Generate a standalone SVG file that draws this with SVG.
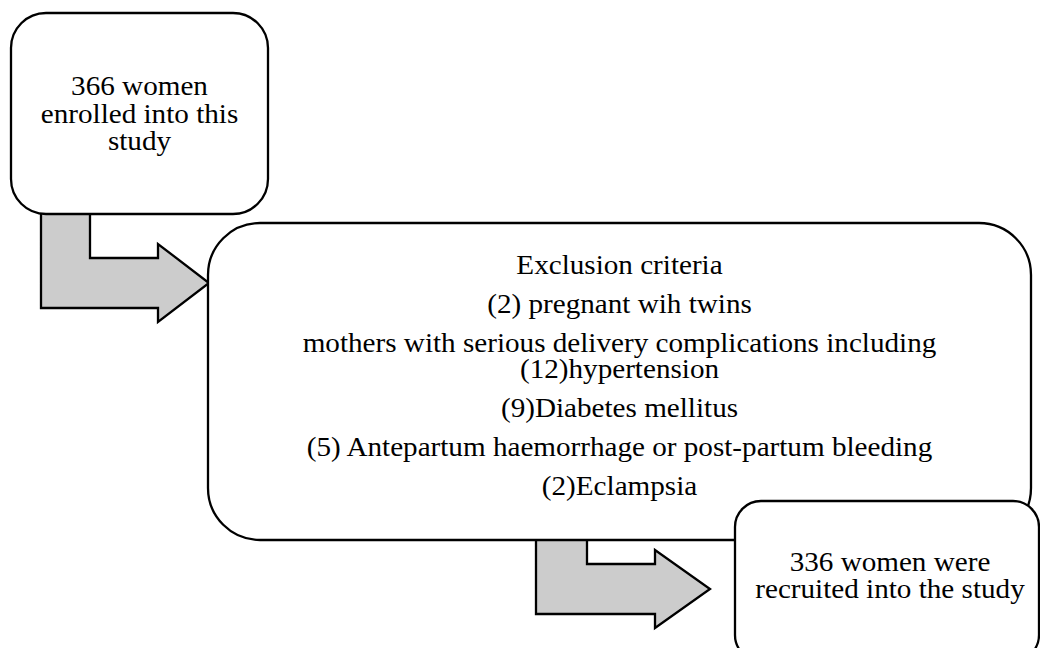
<svg xmlns="http://www.w3.org/2000/svg" width="1040" height="648" viewBox="0 0 1040 648">
  <style>
    .box { fill: #ffffff; stroke: #000000; stroke-width: 2.3; }
    .arrow { fill: #cccccc; stroke: #000000; stroke-width: 2.3; stroke-linejoin: miter; }
    .label { font-family: "Liberation Serif", "Times New Roman", serif; font-size: 26.5px; fill: #000000; text-anchor: middle; }
  </style>
  <rect x="0" y="0" width="1040" height="648" fill="#ffffff"/>

  <!-- bent block arrows between the stages -->
  <g id="connectors">
    <path class="arrow" d="M41,205 L90,205 L90,258 L158,258 L158,244 L209,283 L158,322 L158,308 L41,308 Z"/>
    <path class="arrow" d="M536,530 L587,530 L587,564 L655,564 L655,550 L710,589 L655,628 L655,614 L536,614 Z"/>
  </g>

  <!-- enrolled -->
  <g id="enrolled">
    <rect class="box" x="11" y="13" width="257" height="201" rx="35" ry="35"/>
    <g transform="translate(139.5,0) scale(1.1,1)">
      <text class="label" x="0" y="95">366 women</text>
      <text class="label" x="0" y="123">enrolled into this</text>
      <text class="label" x="0" y="150">study</text>
    </g>
  </g>

  <!-- exclusion criteria -->
  <g id="exclusion">
    <rect class="box" x="208" y="223" width="823" height="317" rx="52" ry="52"/>
    <g transform="translate(619.5,0) scale(1.1,1)">
      <text class="label" x="0" y="274">Exclusion criteria</text>
      <text class="label" x="0" y="313">(2) pregnant wih twins</text>
      <text class="label" x="0" y="352">mothers with serious delivery complications including</text>
      <text class="label" x="0" y="378">(12)hypertension</text>
      <text class="label" x="0" y="417">(9)Diabetes mellitus</text>
      <text class="label" x="0" y="456">(5) Antepartum haemorrhage or post-partum bleeding</text>
      <text class="label" x="0" y="495">(2)Eclampsia</text>
    </g>
  </g>

  <!-- recruited -->
  <g id="recruited">
    <rect class="box" x="735" y="501" width="304" height="160" rx="26" ry="26"/>
    <g transform="translate(890,0) scale(1.1,1)">
      <text class="label" x="0" y="571">336 women were</text>
      <text class="label" x="0" y="598">recruited into the study</text>
    </g>
  </g>
</svg>
